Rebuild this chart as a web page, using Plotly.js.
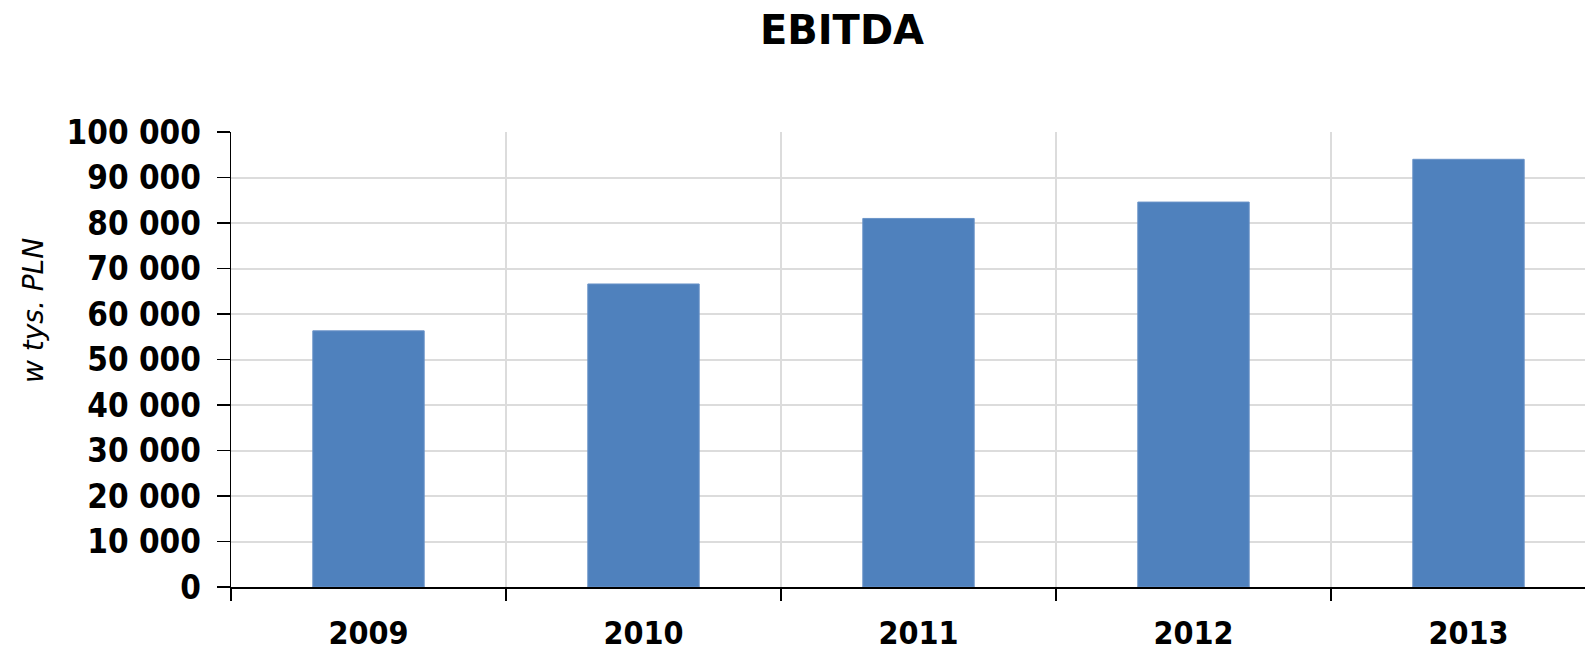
<!DOCTYPE html>
<html>
<head>
<meta charset="utf-8">
<script src="https://cdn.plot.ly/plotly-3.0.1.min.js"></script>
<style>html,body{margin:0;padding:0;background:#fff;}#chart{width:1585px;height:651px;}</style>
</head>
<body>
<div id="chart"></div>
<script>
const years = ['2009', '2010', '2011', '2012', '2013'];
const ebitda = [56300, 66600, 81000, 84600, 94000];
const chartTitle = 'EBITDA';
const yTitle = 'w tys. PLN';

const tickFont = {family: '"DejaVu Sans Condensed", "Liberation Sans", sans-serif', size: 33, color: '#000', weight: 'bold'};
const xTickFont = {family: '"DejaVu Sans Condensed", "Liberation Sans", sans-serif', size: 32, color: '#000', weight: 'bold'};

const trace = {
  type: 'bar',
  x: years,
  y: ebitda,
  width: 0.405,
  marker: {color: '#4f81bd', line: {color: '#6a93c8', width: 1}},
  hoverinfo: 'skip'
};

const layout = {
  width: 1585,
  height: 651,
  margin: {l: 231, r: 0, t: 132, b: 64, pad: 0},
  paper_bgcolor: '#ffffff',
  plot_bgcolor: '#ffffff',
  showlegend: false,
  separators: ', ',
  title: {
    text: '<b>' + chartTitle + '</b>',
    font: {family: '"DejaVu Sans", Verdana, sans-serif', size: 40, color: '#000'},
    x: (842 - 231) / 1354, xanchor: 'center', xref: 'paper',
    y: 1 - 30 / 651, yanchor: 'middle', yref: 'container'
  },
  xaxis: {
    type: 'category',
    range: [-0.5, 4.5 - 21 / 275],
    tickson: 'boundaries',
    ticks: 'outside', ticklen: 12, tickwidth: 1.5, tickcolor: '#000',
    showline: true, linecolor: '#000', linewidth: 1.5,
    showgrid: true, gridcolor: '#dcdcdc', gridwidth: 2,
    tickfont: xTickFont,
    ticklabelstandoff: 17,
    fixedrange: true
  },
  yaxis: {
    range: [0, 100000],
    tickvals: [0, 10000, 20000, 30000, 40000, 50000, 60000, 70000, 80000, 90000, 100000],
    tickformat: ',d',
    ticks: 'outside', ticklen: 13, tickwidth: 1.5, tickcolor: '#000',
    showline: true, linecolor: '#000', linewidth: 1.5,
    showgrid: true, gridcolor: '#dcdcdc', gridwidth: 2,
    zeroline: false,
    tickfont: tickFont,
    ticklabelstandoff: 9,
    fixedrange: true
  },
  annotations: [{
    text: '<i>' + yTitle + '</i>',
    xref: 'paper', yref: 'paper',
    x: -198 / 1354, y: (587 - 311) / 455,
    xanchor: 'center', yanchor: 'middle',
    textangle: -90,
    showarrow: false,
    font: {family: '"DejaVu Sans", Verdana, sans-serif', size: 28, color: '#000'}
  }]
};

Plotly.newPlot('chart', [trace], layout, {displayModeBar: false, staticPlot: true});
</script>
</body>
</html>
